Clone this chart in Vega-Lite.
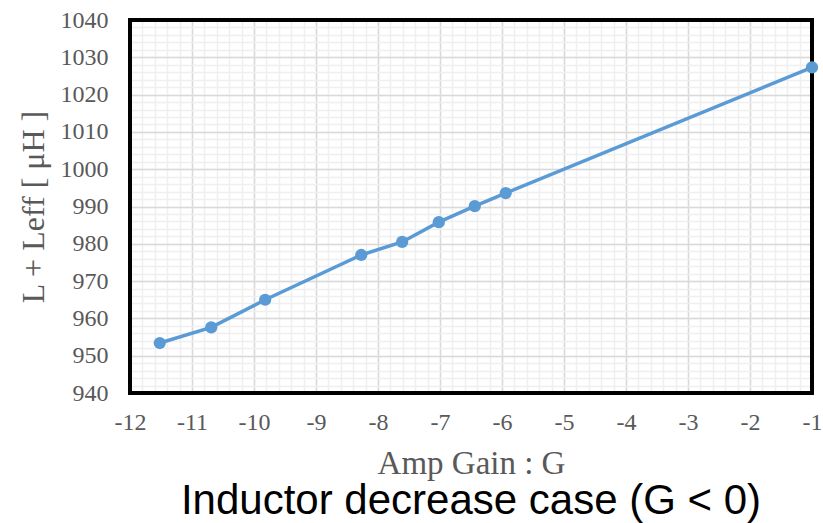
{
  "$schema": "https://vega.github.io/schema/vega-lite/v6.json",
  "width": 682,
  "height": 373,
  "autosize": {"type": "none"},
  "padding": {"left": 130, "top": 20, "right": 11, "bottom": 130},
  "background": "white",
  "config": {"view": {"stroke": "black", "strokeWidth": 3}},
  "title": {
    "text": "Inductor decrease case (G < 0)",
    "orient": "bottom",
    "anchor": "middle",
    "font": "Liberation Sans",
    "fontSize": 42,
    "fontWeight": "normal",
    "color": "black",
    "offset": 1
  },
  "data": {
    "values": [
      {"G": -11.52, "L": 953.4},
      {"G": -10.69, "L": 957.6},
      {"G": -9.82, "L": 965.0},
      {"G": -8.27, "L": 977.0},
      {"G": -7.61, "L": 980.5},
      {"G": -7.02, "L": 985.8},
      {"G": -6.44, "L": 990.1},
      {"G": -5.94, "L": 993.6},
      {"G": -1.0, "L": 1027.3}
    ]
  },
  "layer": [
    {
      "mark": {"type": "line", "opacity": 0},
      "encoding": {
        "x": {
          "field": "G", "type": "quantitative",
          "scale": {"domain": [-12, -1], "nice": false, "zero": false},
          "axis": {"orient": "bottom", "tickCount": 55, "grid": true, "gridColor": "#efefef", "gridWidth": 1.5, "labels": false, "ticks": false, "domain": false, "title": null}
        },
        "y": {
          "field": "L", "type": "quantitative",
          "scale": {"domain": [940, 1040], "nice": false, "zero": false},
          "axis": {"orient": "left", "tickCount": 50, "grid": true, "gridColor": "#efefef", "gridWidth": 1.5, "labels": false, "ticks": false, "domain": false, "title": null}
        }
      }
    },
    {
      "mark": {"type": "rect", "fill": null, "stroke": "black", "strokeWidth": 3},
      "encoding": {
        "x": {"datum": -12, "type": "quantitative", "axis": null},
        "x2": {"datum": -1},
        "y": {"datum": 940, "type": "quantitative", "axis": null},
        "y2": {"datum": 1040}
      }
    },
    {
      "mark": {"type": "line", "color": "#5b9bd5", "strokeWidth": 3.5, "point": {"filled": true, "size": 150, "color": "#5b9bd5", "opacity": 1}},
      "encoding": {
        "x": {
          "field": "G", "type": "quantitative",
          "scale": {"domain": [-12, -1], "nice": false, "zero": false},
          "axis": {
            "orient": "bottom",
            "values": [-12, -11, -10, -9, -8, -7, -6, -5, -4, -3, -2, -1],
            "grid": true, "gridColor": "#d9d9d9", "gridWidth": 1.5,
            "ticks": false, "domain": false, "labelFlush": false,
            "labelExpr": "'' + datum.value",
            "labelFont": "Liberation Serif", "labelFontSize": 24, "labelColor": "#595959", "labelPadding": 17,
            "title": "Amp Gain : G",
            "titleFont": "Liberation Serif", "titleFontSize": 33, "titleFontWeight": "normal", "titleColor": "#595959", "titlePadding": 13
          }
        },
        "y": {
          "field": "L", "type": "quantitative",
          "scale": {"domain": [940, 1040], "nice": false, "zero": false},
          "axis": {
            "orient": "left",
            "values": [940, 950, 960, 970, 980, 990, 1000, 1010, 1020, 1030, 1040],
            "grid": true, "gridColor": "#d9d9d9", "gridWidth": 1.5,
            "ticks": false, "domain": false, "labelFlush": false,
            "labelExpr": "'' + datum.value",
            "labelFont": "Liberation Serif", "labelFontSize": 24, "labelColor": "#595959", "labelPadding": 22,
            "title": "L + Leff [ μH ]",
            "titleFont": "Liberation Serif", "titleFontSize": 32, "titleFontWeight": "normal", "titleColor": "#595959", "titlePadding": 10
          }
        }
      }
    }
  ],
  "resolve": {"axis": {"x": "independent", "y": "independent"}}
}
